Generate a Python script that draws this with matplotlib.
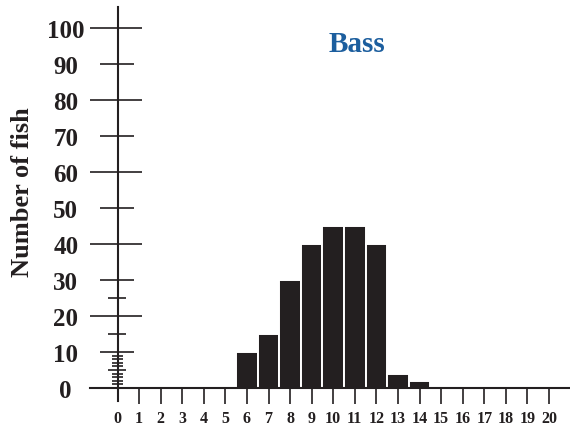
import matplotlib
matplotlib.use("Agg")
import matplotlib.pyplot as plt

# ── Datos ─────────────────────────────────────────────────────────────────────
lengths = list(range(0, 21))
counts = [0, 0, 0, 0, 0, 0, 10, 15, 30, 40, 45, 45, 40, 4, 2,
          0, 0, 0, 0, 0, 0]
y_labels = list(range(0, 101, 10))
y_long = [20, 40, 60, 80, 100]
y_medium = [10, 30, 50, 70, 90]
y_short = [5, 15, 25]
y_tiny = [1, 2, 3, 4, 6, 7, 8, 9]

INK = "#231f20"
BLUE = "#1c5e9e"
W, H = 570, 427
plt.rcParams["font.family"] = ["Liberation Serif", "DejaVu Serif"]
plt.rcParams["font.weight"] = "bold"

fig = plt.figure(figsize=(W / 100, H / 100), dpi=100)

# geometría en píxeles (eje y en x=117.5, y=0 en 389, y=100 en 29.3)
left_px, right_px, top_px, bottom_px = 90, 570, 8, 389
ax = fig.add_axes([left_px / W, 1 - bottom_px / H,
                   (right_px - left_px) / W, (bottom_px - top_px) / H])
px_per_x = (549 - 117.5) / 20
px_per_y = (389 - 29.3) / 100
ax.set_xlim(-(117.5 - left_px) / px_per_x, (right_px - 117.5) / px_per_x)
ax.set_ylim(0, (bottom_px - top_px) / px_per_y)

ax.bar(lengths, counts, width=1.0, color=INK, edgecolor="white",
       linewidth=1.4, zorder=2)

for s in ["top", "right", "left"]:
    ax.spines[s].set_visible(False)
ax.spines["bottom"].set_linewidth(1.5)
ax.spines["bottom"].set_color(INK)

# eje vertical, prolongado bajo el eje x
ax.axvline(0, ymin=-13 / (bottom_px - top_px), ymax=1, color=INK,
           linewidth=1.5, clip_on=False, zorder=3)

# marcas del eje y
x0 = (117.5 - left_px) / (right_px - left_px)
tr = ax.get_yaxis_transform()
for vals, (a, b) in [(y_long, (27.5, 24.5)), (y_medium, (17.5, 16.5)),
                     (y_short, (9.5, 8.5)), (y_tiny, (6, 5))]:
    ax.hlines(vals, x0 - a / 480, x0 + b / 480, transform=tr,
              color=INK, linewidth=1.2, zorder=3)

ax.set_yticks(y_labels)
ax.set_yticklabels([str(v) for v in y_labels])
ax.tick_params(axis="y", length=0, pad=17.5, labelsize=18, labelcolor=INK)
for lbl in ax.get_yticklabels():
    lbl.set_horizontalalignment("center")

ax.set_xticks(lengths[1:])
ax.set_xticklabels([str(v) for v in lengths[1:]])
ax.tick_params(axis="x", direction="out", length=11.5, width=1.2,
               color=INK, pad=4, labelsize=11.5, labelcolor=INK)
# etiqueta del 0 bajo el eje vertical
ax.text(0, -30.5 / px_per_y, "0", ha="center", va="center",
        fontsize=11.5, color=INK, clip_on=False)

fig.text(357 / W, 1 - 45 / H, "Bass", ha="center", va="center",
         fontsize=21, color=BLUE)
fig.text(23 / W, 1 - 192 / H, "Number of fish", rotation=90,
         ha="center", va="center", fontsize=19, color=INK)

fig.savefig("out.png", dpi=100)
